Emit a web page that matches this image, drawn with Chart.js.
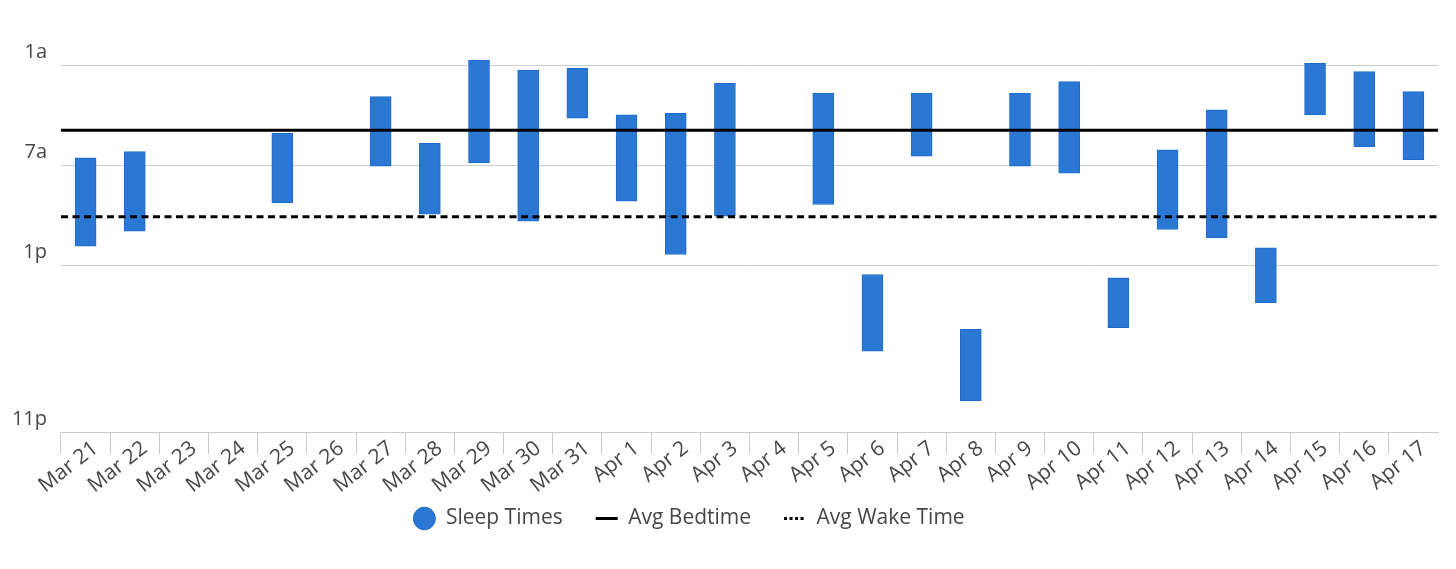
<!DOCTYPE html>
<html>
<head>
<meta charset="utf-8">
<title>Sleep Times</title>
<script src="https://cdn.jsdelivr.net/npm/chart.js@4/dist/chart.umd.min.js"></script>
<style>
  html, body { margin: 0; padding: 0; background: #fff; }
  #contenedor { width: 1456px; height: 569px; }
</style>
</head>
<body>
<div id="contenedor"><canvas id="graficaSueno"></canvas></div>
<script>
// =================== Datos ===================

// Días del eje X
const dias = [
  "Mar 21", "Mar 22", "Mar 23", "Mar 24", "Mar 25", "Mar 26", "Mar 27",
  "Mar 28", "Mar 29", "Mar 30", "Mar 31", "Apr 1", "Apr 2", "Apr 3",
  "Apr 4", "Apr 5", "Apr 6", "Apr 7", "Apr 8", "Apr 9", "Apr 10",
  "Apr 11", "Apr 12", "Apr 13", "Apr 14", "Apr 15", "Apr 16", "Apr 17"
];

// Hora de dormir (horas desde medianoche), null = sin dato
const horaDormir = [
  6.54, 6.16, null, null, 5.06, null, 2.86,
  5.66, 0.66, 1.26, 1.16, 3.96, 3.86, 2.06,
  null, 2.66, 13.54, 2.66, 16.84, 2.66, 1.96,
  13.74, 6.06, 3.66, 11.94, 0.86, 1.36, 2.56
];

// Hora de despertar (horas desde medianoche)
const horaDespertar = [
  11.84, 10.94, null, null, 9.24, null, 7.04,
  9.92, 6.84, 10.34, 4.16, 9.14, 12.34, 10.04,
  null, 9.34, 18.14, 6.44, 21.12, 7.04, 7.46,
  16.74, 10.84, 11.34, 15.24, 3.96, 5.86, 6.64
];

// Promedios (líneas horizontales)
const promDormir = 4.88;
const promDespertar = 10.08;

// Marcas del eje Y
const ticksY = [1, 7, 13, 23];
const etiquetasY = ["1a", "7a", "1p", "11p"];

// =================== Helpers ===================

const COLOR_TEXTO = "#474747";
const COLOR_GRID = "#cccccc";
const FUENTE = "'Open Sans', 'Noto Sans', sans-serif";

// Barras flotantes [dormir, despertar]
const rangos = dias.map((_, i) =>
  horaDormir[i] === null ? null : [horaDormir[i], horaDespertar[i]]
);

// Línea horizontal de borde a borde (sobre eje lineal oculto)
function lineaPlana(valor) {
  return [{ x: -0.5, y: valor }, { x: dias.length - 0.5, y: valor }];
}

// Sube la leyenda (pegada a las etiquetas) y la corre un poco a la izquierda
const moverLeyenda = {
  id: "moverLeyenda",
  afterLayout(chart) {
    const lg = chart.legend;
    if (!lg) return;
    lg.top -= 30;
    lg.bottom -= 30;
    lg.left -= 30;
    lg.right -= 30;
  }
};

// =================== Gráfica ===================

const ctx = document.getElementById("graficaSueno").getContext("2d");

const grafica = new Chart(ctx, {
  type: "bar",
  data: {
    labels: dias,
    datasets: [
      {
        label: "Sleep Times",
        data: rangos,
        backgroundColor: "#2b78d4",
        borderColor: "#1f6bcb",
        borderWidth: 1,
        borderSkipped: false,
        barThickness: 21,
        grouped: false,
        pointStyle: "circle",
        order: 1
      },
      {
        type: "line",
        label: "Avg Bedtime",
        data: lineaPlana(promDormir),
        xAxisID: "x2",
        borderColor: "#000",
        backgroundColor: "#000",
        borderWidth: 3,
        pointRadius: 0,
        fill: false,
        pointStyle: "line",
        order: 0
      },
      {
        type: "line",
        label: "Avg Wake Time",
        data: lineaPlana(promDespertar),
        xAxisID: "x2",
        borderColor: "#000",
        backgroundColor: "#000",
        borderWidth: 3,
        borderDash: [7, 4.5],
        pointRadius: 0,
        fill: false,
        pointStyle: "line",
        order: 0
      }
    ]
  },
  plugins: [moverLeyenda],
  options: {
    responsive: true,
    maintainAspectRatio: false,
    animation: false,
    layout: { padding: { top: 49, right: 18, bottom: 0, left: 0 } },
    plugins: {
      tooltip: { enabled: false },
      legend: {
        position: "bottom",
        labels: {
          font: { family: FUENTE, size: 21 },
          color: COLOR_TEXTO,
          usePointStyle: true,
          boxHeight: 16,
          pointStyleWidth: 22,
          padding: 33,
          generateLabels: (chart) => {
            const items = Chart.defaults.plugins.legend.labels.generateLabels(chart);
            items.forEach(it => {
              // punteado más fino en la leyenda
              if (it.datasetIndex === 2) it.lineDash = [3, 2.5];
            });
            return items.sort((a, b) => a.datasetIndex - b.datasetIndex);
          }
        }
      }
    },
    scales: {
      x: {
        type: "category",
        offset: true,
        afterFit: (s) => { s.height = 73; },
        grid: {
          offset: true,
          drawOnChartArea: false,
          tickLength: 22,
          color: (c) => (c.tick ? COLOR_GRID : "rgba(0,0,0,0)")
        },
        border: { color: COLOR_GRID, width: 1 },
        ticks: {
          autoSkip: false,
          minRotation: 38,
          maxRotation: 38,
          padding: -18,
          labelOffset: 10,
          color: COLOR_TEXTO,
          font: { family: FUENTE, size: 21 }
        }
      },
      x2: {
        type: "linear",
        display: false,
        offset: false,
        grid: { offset: false },
        min: -0.5,
        max: dias.length - 0.5
      },
      y: {
        reverse: true,
        min: 0,
        max: 23,
        afterFit: (s) => { s.width = 61; },
        afterBuildTicks: (s) => { s.ticks = ticksY.map(v => ({ value: v })); },
        grid: { color: COLOR_GRID, drawTicks: false },
        border: { display: false },
        ticks: {
          padding: 14,
          labelOffset: -13,
          color: COLOR_TEXTO,
          font: { family: FUENTE, size: 20 },
          callback: (v) => etiquetasY[ticksY.indexOf(v)]
        }
      }
    }
  }
});
</script>
</body>
</html>
